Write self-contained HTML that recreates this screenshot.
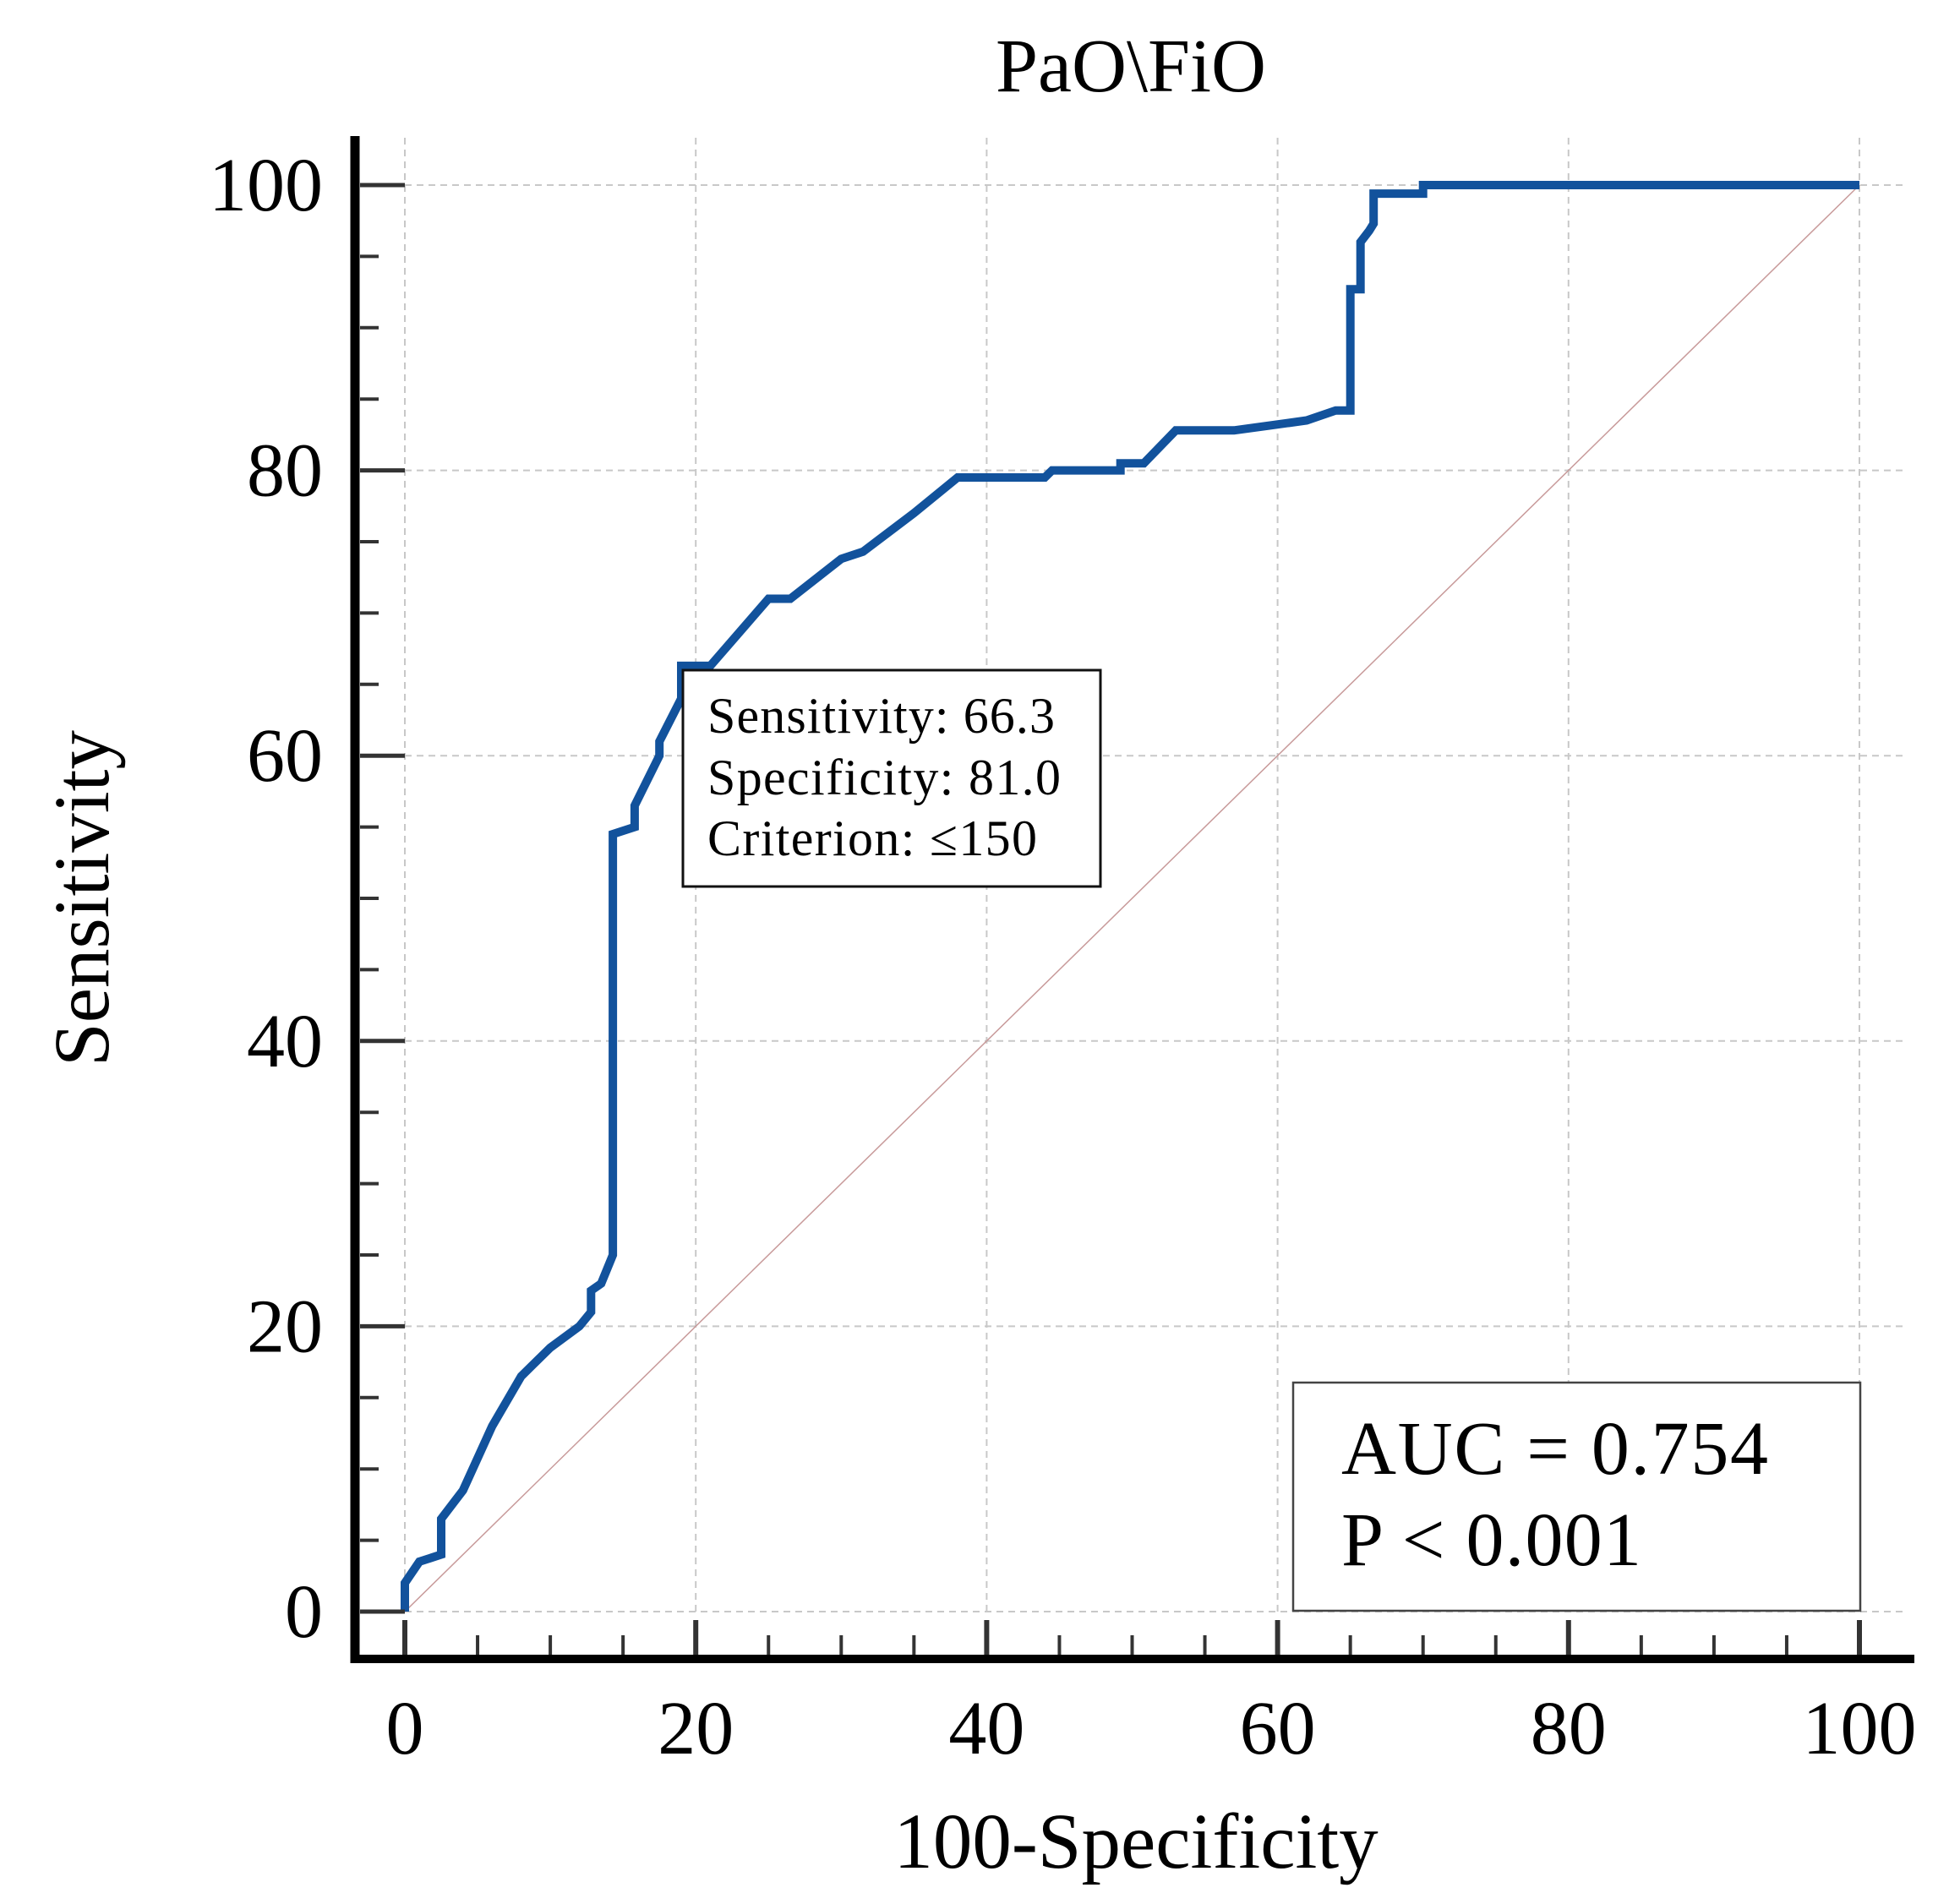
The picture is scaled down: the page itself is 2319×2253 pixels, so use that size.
<!DOCTYPE html>
<html><head><meta charset="utf-8"><style>
html,body{margin:0;padding:0;background:#fff;}
svg{display:block;font-family:"Liberation Serif","DejaVu Serif",serif;}
</style></head><body>
<svg id="chart" width="2319" height="2253" viewBox="0 0 2319 2253" xmlns="http://www.w3.org/2000/svg">
<rect width="2319" height="2253" fill="#fff"/>
<g id="grid"></g>
<line id="diag" stroke="#c89a9a" stroke-width="1.5"/>
<path id="roc" fill="none" stroke="#12529c" stroke-width="10" stroke-linejoin="miter"/>
<g id="axes"></g>
<text x="1338" y="108" font-size="90" text-anchor="middle">PaO\FiO</text>
<text x="1344" y="2210" font-size="93" text-anchor="middle">100-Specificity</text>
<text transform="translate(128,1063) rotate(-90)" font-size="93" text-anchor="middle">Sensitivity</text>
<g>
<rect x="808" y="793" width="494" height="256" fill="#fff" stroke="#111" stroke-width="3"/>
<text x="837" y="867" font-size="60" textLength="411">Sensitivity: 66.3</text>
<text x="837" y="940" font-size="60" textLength="418">Specificity: 81.0</text>
<text x="837" y="1012" font-size="60" textLength="390">Criterion: ≤150</text>
</g>
<g>
<rect x="1530" y="1636" width="671" height="270" fill="#fff" stroke="#444" stroke-width="2.5"/>
<text x="1587" y="1744" font-size="90" textLength="505">AUC = 0.754</text>
<text x="1587" y="1852" font-size="90" textLength="355">P &lt; 0.001</text>
</g>
</svg>
<script>
const fprValues = [0,0,1,2.5,2.5,4,6,8,10,12,12.8,12.8,13.5,14.3,14.3,15.8,15.8,17.5,17.5,19,19,21,25,26.5,30,31.5,35,38,44,44.5,49.2,49.2,50.8,53,57,62,64,65,65,65.7,65.7,66.3,66.6,66.6,70,70,100];
const tprValues = [0,2,3.5,4,6.5,8.5,13,16.5,18.5,20,21,22.5,23,25,54.5,55,56.5,60,61,64,66.3,66.3,71,71,73.8,74.3,77,79.5,79.5,80,80,80.5,80.5,82.8,82.8,83.5,84.2,84.2,92.7,92.7,96,96.8,97.3,99.4,99.4,100,100];
const xTickLabels = ["0","20","40","60","80","100"];
const yTickLabels = ["0","20","40","60","80","100"];
const majorTicks = [0,20,40,60,80,100];

const X0=479, X1=2200, Y0=1907, Y1=219;
const sx = v => X0 + (X1-X0)*v/100;
const sy = v => Y0 - (Y0-Y1)*v/100;
const NS="http://www.w3.org/2000/svg";
function mk(tag, attrs, parent){const e=document.createElementNS(NS,tag);for(const k in attrs)e.setAttribute(k,attrs[k]);parent.appendChild(e);return e;}

const grid=document.getElementById('grid');
majorTicks.forEach(v=>{
  const g1=mk('line',{x1:sx(v),x2:sx(v),y1:163,y2:Y0,stroke:'#c8c8c8','stroke-width':2,'stroke-dasharray':'8 6'},grid);
  
  
  const g2=mk('line',{x1:X0,x2:2257,y1:sy(v),y2:sy(v),stroke:'#c8c8c8','stroke-width':2,'stroke-dasharray':'8 6'},grid);
  
  
});

const diag=document.getElementById('diag');
diag.setAttribute('x1',sx(0));diag.setAttribute('y1',sy(0));
diag.setAttribute('x2',sx(100));diag.setAttribute('y2',sy(100));

let d='';
fprValues.forEach((x,i)=>{d+=(i?'L':'M')+sx(x).toFixed(1)+' '+sy(tprValues[i]).toFixed(1)+' ';});
document.getElementById('roc').setAttribute('d',d);

const axes=document.getElementById('axes');
const ya=mk('line',{x1:420,x2:420,y1:161,y2:1968,stroke:'#000','stroke-width':11},axes);


const xa=mk('line',{x1:415,x2:2265,y1:1963,y2:1963,stroke:'#000','stroke-width':10},axes);


for(let v=0; v<=100; v+=5){
  const major = v%20===0;
  const t1=mk('line',{x1:426,x2:major?X0:448,y1:sy(v),y2:sy(v),stroke:'#333','stroke-width':major?5:4},axes);
  
  
  const t2=mk('line',{x1:sx(v),x2:sx(v),y1:major?1917:1935,y2:1958,stroke:'#333','stroke-width':major?6:4},axes);
  
  
}
majorTicks.forEach((v,i)=>{
  const tx=mk('text',{x:sx(v),y:2075,'font-size':90,'text-anchor':'middle'},axes);
  tx.textContent=xTickLabels[i];
  
  
  const ty=mk('text',{x:382,y:sy(v)+30,'font-size':90,'text-anchor':'end'},axes);
  ty.textContent=yTickLabels[i];
  
  
});
</script>
</body></html>
